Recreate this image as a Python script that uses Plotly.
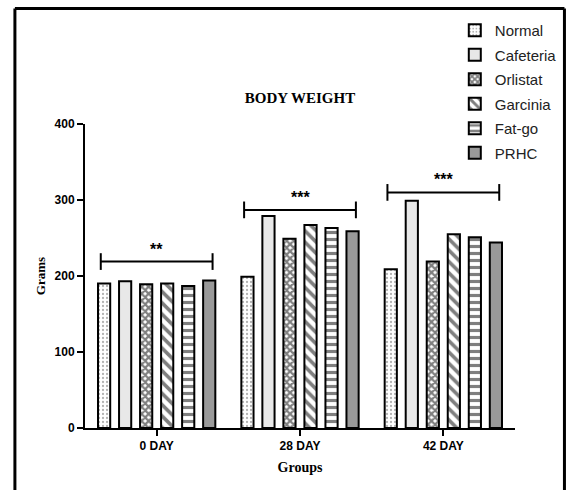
import plotly.graph_objects as go

groups = ["0 DAY", "28 DAY", "42 DAY"]
series = ["Normal", "Cafeteria", "Orlistat", "Garcinia", "Fat-go", "PRHC"]
values = {
    "Normal":    [190, 199, 209],
    "Cafeteria": [193, 279, 299],
    "Orlistat":  [189, 249, 219],
    "Garcinia":  [190, 267, 255],
    "Fat-go":    [187, 263, 251],
    "PRHC":      [194, 259, 244],
}
sig_labels = ["**", "***", "***"]
sig_heights = [219, 287, 310]

styles = {
    "Normal":    dict(color="white", pattern=dict(shape=".", size=4, solidity=0.25, fgcolor="#666", bgcolor="white")),
    "Cafeteria": dict(color="#e8e8e8"),
    "Orlistat":  dict(color="white", pattern=dict(shape="x", size=5, solidity=0.7, fgcolor="black", bgcolor="white")),
    "Garcinia":  dict(color="white", pattern=dict(shape="\\", size=8, solidity=0.45, fgcolor="black", bgcolor="white")),
    "Fat-go":    dict(color="white", pattern=dict(shape="-", size=7, solidity=0.45, fgcolor="black", bgcolor="white")),
    "PRHC":      dict(color="#999999"),
}

fig = go.Figure()
for s in series:
    st = styles[s]
    marker = dict(color=st["color"], line=dict(color="black", width=2))
    if "pattern" in st:
        marker["pattern"] = st["pattern"]
    fig.add_trace(go.Bar(name=s, x=groups, y=values[s], marker=marker, legendgroup=s))

# significance brackets
half = 0.39
tick_h = 11
for i, (lab, h) in enumerate(zip(sig_labels, sig_heights)):
    x0, x1 = i - half, i + half
    fig.add_shape(type="line", xref="x", yref="y", x0=x0, x1=x1, y0=h, y1=h, line=dict(color="black", width=2))
    for xx in (x0, x1):
        fig.add_shape(type="line", xref="x", yref="y", x0=xx, x1=xx, y0=h - tick_h, y1=h + tick_h, line=dict(color="black", width=2))
    fig.add_annotation(x=i, y=h, xref="x", yref="y", text="<b>" + lab + "</b>", showarrow=False,
                       yanchor="bottom", yshift=2, font=dict(family="Liberation Sans", size=16, color="black"))

# outer frame (three sides; bottom runs off the page)
fx0, fx1, fy0, fy1 = -0.163, 1.115, -0.3, 1.38
frame = dict(color="black", width=3)
fig.add_shape(type="line", xref="paper", yref="paper", x0=fx0, x1=fx1, y0=fy1, y1=fy1, line=frame)
fig.add_shape(type="line", xref="paper", yref="paper", x0=fx0, x1=fx0, y0=fy0, y1=fy1, line=frame)
fig.add_shape(type="line", xref="paper", yref="paper", x0=fx1, x1=fx1, y0=fy0, y1=fy1, line=frame)

fig.update_layout(
    width=574, height=490,
    margin=dict(l=85, r=58.5, t=124, b=62),
    paper_bgcolor="white", plot_bgcolor="white",
    barmode="group", bargap=0.12, bargroupgap=0.42,
    title=dict(text="<b>BODY WEIGHT</b>", x=0.5, xref="paper", xanchor="center",
               y=1 - 98 / 490, yref="container", yanchor="middle",
               font=dict(family="Liberation Serif", size=15, color="black")),
    legend=dict(x=0.86, xanchor="left", y=1.362, yanchor="top", tracegroupgap=2,
                font=dict(family="Liberation Sans", size=15, color="#222"),
                bgcolor="rgba(0,0,0,0)"),
    xaxis=dict(showline=True, linecolor="black", linewidth=2, ticks="outside", ticklen=6, tickwidth=2,
               tickcolor="black", tickfont=dict(family="Liberation Sans", size=12, color="black", weight="bold"),
               title=dict(text="<b>Groups</b>", font=dict(family="Liberation Serif", size=14, color="black"), standoff=10),
               range=[-0.5, 2.5]),
    yaxis=dict(showline=True, linecolor="black", linewidth=2, ticks="outside", ticklen=6, tickwidth=2,
               tickcolor="black", range=[0, 400], tickvals=[0, 100, 200, 300, 400], showgrid=False, zeroline=False,
               tickfont=dict(family="Liberation Sans", size=12, color="black", weight="bold"),
               title=dict(text="<b>Grams</b>", font=dict(family="Liberation Serif", size=13, color="black"), standoff=6)),
)

fig.write_html("out.html", config={"displayModeBar": False},
               post_script="document.body.style.margin='0';")
